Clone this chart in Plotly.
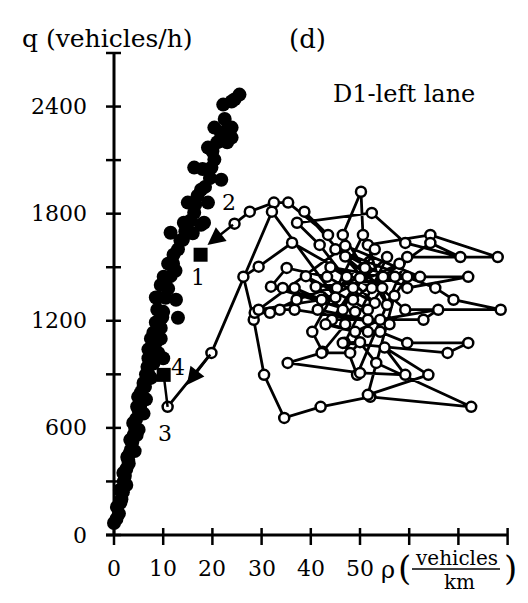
import plotly.graph_objects as go

# ---------------- data ----------------
# free-flow branch (filled circles)
rho_free = [25.5, 23.9, 22.2, 20.4, 23.9, 21.8, 23.9, 22.5, 19.1, 20.4, 16.3, 19.8, 21.8, 17.7,
            15.0, 19.1, 16.3, 18.3, 14.2, 11.5, 14.0, 17.7, 12.1, 10.1, 10.5, 12.6, 13.0, 8.8,
            8.0, 7.4, 6.8, 6.0, 4.9, 6.0, 4.7, 3.9, 3.3, 2.7, 1.9, 1.2, 0.6, 0.0,
            13.0, 11.0, 12.5, 9.5, 11.0, 9.0, 10.0, 8.5, 9.5, 7.5, 8.5, 9.0, 7.0, 8.0,
            6.5, 7.5, 5.5, 6.5, 5.0, 6.0, 4.5, 5.0, 4.0, 3.5, 4.2, 3.0, 2.5, 2.0, 2.5,
            1.5, 1.0, 16.0, 15.5, 18.5, 19.5, 21.0, 9.5, 10.0, 8.5, 7.0,
            0.5, 1.3, 1.8, 2.2, 2.9, 3.2, 3.7, 4.3, 4.6, 5.3, 5.8, 6.3, 7.0, 7.2, 7.8,
            8.2, 9.0, 9.8, 10.5, 11.5, 12.0, 13.5, 14.5, 16.5, 17.0, 18.0, 20.0, 22.5, 24.5, 23.0]
q_free = [2467, 2428, 2411, 2282, 2282, 2243, 2226, 2260, 2170, 2103, 2058, 2058, 1990, 1934,
          1862, 1862, 1805, 1749, 1749, 1693, 1654, 1738, 1570, 1447, 1329, 1318, 1217, 1262,
          1133, 1037, 942, 852, 774, 830, 718, 628, 533, 437, 348, 252, 157, 67,
          1600, 1520, 1480, 1400, 1380, 1330, 1250, 1190, 1160, 1100, 1080, 1020, 990, 960,
          900, 880, 800, 760, 700, 680, 650, 590, 560, 480, 470, 400, 370, 300, 280,
          200, 120, 1690, 1760, 1950, 2000, 2200, 1100, 990, 1330, 1040,
          90, 180, 240, 330, 420, 460, 520, 600, 560, 720, 760, 830, 900, 950, 1000,
          1060, 1180, 1220, 1400, 1450, 1520, 1650, 1700, 1850, 1900, 2050, 2150, 2330, 2440, 2200]

# synchronized-flow trajectory (open circles, in time order)
rho_sync = [24.5, 27.6, 32.5, 35.4, 43.5, 38.7, 52.4, 36.2, 29.4, 26.3,
            28.4, 30.5, 34.6, 42.0, 52.1, 72.6, 53.3, 47.0, 42.4, 40.3,
            45.3, 50.6, 50.2, 46.5, 55.5, 51.6, 64.3, 78.0, 59.6, 49.4,
            46.9, 55.5, 48.6, 41.8, 37.2, 52.4, 59.2, 70.4, 64.3, 54.7,
            44.0, 47.3, 53.0, 43.3, 35.1, 31.9, 49.0, 34.3, 36.7, 42.2,
            58.0, 48.6, 51.0, 57.1, 72.0, 59.6, 45.0, 65.3, 69.0, 78.6,
            59.2, 47.0, 54.5, 51.6, 39.0, 46.5, 53.0, 41.4, 56.0, 36.7,
            33.7, 28.6, 31.7, 37.1, 50.0, 44.3, 51.6, 62.9, 65.9, 54.1,
            49.0, 43.0, 51.6, 54.1, 59.6, 72.0, 67.8, 46.5, 50.0, 48.0,
            42.2, 35.3, 50.0, 59.2, 55.0, 63.9, 51.6, 57.0, 59.6, 41.0,
            62.2, 47.0, 29.4, 45.0, 32.1, 19.8, 10.9]
q_sync = [1744, 1811, 1862, 1862, 1681, 1811, 1384, 1637, 1503, 1447,
          1206, 897, 656, 718, 774, 718, 964, 1180, 1026, 1138,
          1384, 1681, 1923, 1681, 1290, 1625, 1681, 1557, 1557, 897,
          1077, 1557, 1384, 1625, 1749, 1804, 1636, 1557, 1636, 1446,
          1500, 1446, 1300, 1446, 1496, 1391, 1250, 1384, 1384, 1318,
          1520, 1318, 1496, 1446, 1446, 1384, 1600, 1384, 1318, 1262,
          1262, 1560, 1384, 1262, 1450, 1262, 1600, 1262, 1180, 1262,
          1262, 1245, 1245, 1318, 1440, 1206, 1206, 1206, 1262, 1206,
          1138, 1180, 1138, 1138, 1076, 1076, 1020, 1076, 1080, 1020,
          1020, 964, 908, 897, 1050, 897, 785, 1340, 1446, 1390,
          1446, 1620, 1262, 1330, 1811, 1020, 718]

# marked states 1 and 4 (squares) and the return jump 3 -> 4
rho_marked = [17.6, 10.1]
q_marked = [1570, 897]
rho_jump = [10.9, 10.1]
q_jump = [718, 897]

# arrows: tail and head
arrow_tail_rho = [24.5, 19.8]
arrow_tail_q = [1744, 1020]
arrow_head_rho = [19.0, 14.8]
arrow_head_q = [1625, 840]

point_labels = ["1", "2", "3", "4"]
label_rho = [17.1, 23.3, 10.4, 13.1]
label_q = [1440, 1860, 571, 940]

x_ticks = [0, 10, 20, 30, 40, 50, 60, 70, 80]
x_labels = ["0", "10", "20", "30", "40", "50", "", "", ""]
y_ticks = [0, 300, 600, 900, 1200, 1500, 1800, 2100, 2400, 2700]
y_labels = ["0", "", "600", "", "1200", "", "1800", "", "2400", ""]

# ---------------- geometry ----------------
W, H = 528, 603
L, R, T, B = 106, 16, 48, 53
X0PX, XS = 114, 4.92          # pixel of rho=0, px per unit
Y0PX, YS = 535, 482 / 2700    # pixel of q=0, px per unit
xr = [(L - X0PX) / XS, (W - R - X0PX) / XS]
yr = [(Y0PX - (H - B)) / YS, (Y0PX - T) / YS]
FONT = "DejaVu Serif"


def px(xp):
    return (xp - L) / (W - L - R)


def py(yp):
    return ((H - B) - yp) / (H - T - B)


fig = go.Figure()

fig.add_trace(go.Scatter(x=rho_free, y=q_free, mode="markers",
                         marker=dict(size=14, color="black", line=dict(width=0)),
                         hoverinfo="skip"))
fig.add_trace(go.Scatter(x=rho_sync, y=q_sync, mode="lines+markers",
                         line=dict(color="black", width=2.8),
                         marker=dict(size=10, color="white", line=dict(color="black", width=2.5)),
                         hoverinfo="skip"))
fig.add_trace(go.Scatter(x=rho_jump, y=q_jump, mode="lines",
                         line=dict(color="black", width=2.5), hoverinfo="skip"))
fig.add_trace(go.Scatter(x=rho_marked, y=q_marked, mode="markers",
                         marker=dict(symbol="square", size=14, color="black"),
                         hoverinfo="skip"))

shapes = []
shapes.append(dict(type="line", xref="x", yref="y", x0=xr[0], x1=x_ticks[-1], y0=0, y1=0,
                   line=dict(color="black", width=3)))
shapes.append(dict(type="line", xref="x", yref="y", x0=0, x1=0, y0=0, y1=y_ticks[-1],
                   line=dict(color="black", width=3)))
for t in x_ticks:
    shapes.append(dict(type="line", xref="x", yref="y", x0=t, x1=t, ysizemode="pixel",
                       yanchor=0, y0=-10, y1=7, line=dict(color="black", width=2.5)))
for t in y_ticks:
    shapes.append(dict(type="line", xref="x", yref="y", y0=t, y1=t, xsizemode="pixel",
                       xanchor=0, x0=-10, x1=7, line=dict(color="black", width=2.5)))
shapes.append(dict(type="line", xref="paper", yref="paper", x0=px(412), x1=px(500),
                   y0=py(569), y1=py(569), line=dict(color="black", width=1.5)))

ann = []
for t, lab in zip(x_ticks, x_labels):
    if lab:
        ann.append(dict(x=t, y=0, xref="x", yref="y", text=lab, showarrow=False,
                        xanchor="center", yanchor="middle", yshift=-33,
                        font=dict(family=FONT, size=22, color="black")))
for t, lab in zip(y_ticks, y_labels):
    if lab:
        ann.append(dict(x=0, y=t, xref="x", yref="y", text=lab, showarrow=False,
                        xanchor="right", yanchor="middle", xshift=-25,
                        font=dict(family=FONT, size=22, color="black")))
for lab, xv, yv in zip(point_labels, label_rho, label_q):
    ann.append(dict(x=xv, y=yv, xref="x", yref="y", text=lab, showarrow=False,
                    xanchor="center", yanchor="middle",
                    font=dict(family=FONT, size=22, color="black")))
for tx, ty, hx, hy in zip(arrow_tail_rho, arrow_tail_q, arrow_head_rho, arrow_head_q):
    ann.append(dict(x=hx, y=hy, ax=tx, ay=ty, xref="x", yref="y", axref="x", ayref="y",
                    text="", showarrow=True, arrowhead=2, arrowsize=1.4, arrowwidth=2.5,
                    arrowcolor="black", standoff=0, startstandoff=0))

ann.append(dict(x=px(20), y=py(38), xref="paper", yref="paper", text="q (vehicles/h)",
                showarrow=False, xanchor="left", yanchor="middle",
                font=dict(family=FONT, size=25, color="black")))
ann.append(dict(x=px(307), y=py(39), xref="paper", yref="paper", text="(d)",
                showarrow=False, xanchor="center", yanchor="middle",
                font=dict(family=FONT, size=26, color="black")))
ann.append(dict(x=px(404), y=py(94), xref="paper", yref="paper", text="D1-left lane",
                showarrow=False, xanchor="center", yanchor="middle",
                font=dict(family=FONT, size=24, color="black")))
ann.append(dict(x=px(388), y=py(570), xref="paper", yref="paper", text="ρ",
                showarrow=False, xanchor="center", yanchor="middle",
                font=dict(family=FONT, size=24, color="black")))
ann.append(dict(x=px(404), y=py(568), xref="paper", yref="paper", text="(",
                showarrow=False, xanchor="center", yanchor="middle",
                font=dict(family=FONT, size=34, color="black")))
ann.append(dict(x=px(510), y=py(568), xref="paper", yref="paper", text=")",
                showarrow=False, xanchor="center", yanchor="middle",
                font=dict(family=FONT, size=34, color="black")))
ann.append(dict(x=px(456), y=py(558), xref="paper", yref="paper", text="vehicles",
                showarrow=False, xanchor="center", yanchor="middle",
                font=dict(family=FONT, size=20, color="black")))
ann.append(dict(x=px(459), y=py(582), xref="paper", yref="paper", text="km",
                showarrow=False, xanchor="center", yanchor="middle",
                font=dict(family=FONT, size=20, color="black")))

fig.update_layout(
    width=W, height=H, margin=dict(l=L, r=R, t=T, b=B, pad=0),
    paper_bgcolor="white", plot_bgcolor="rgba(0,0,0,0)",
    showlegend=False, shapes=shapes, annotations=ann,
    xaxis=dict(range=xr, visible=False, fixedrange=True),
    yaxis=dict(range=yr, visible=False, fixedrange=True),
)
fig.write_html("out.html")
